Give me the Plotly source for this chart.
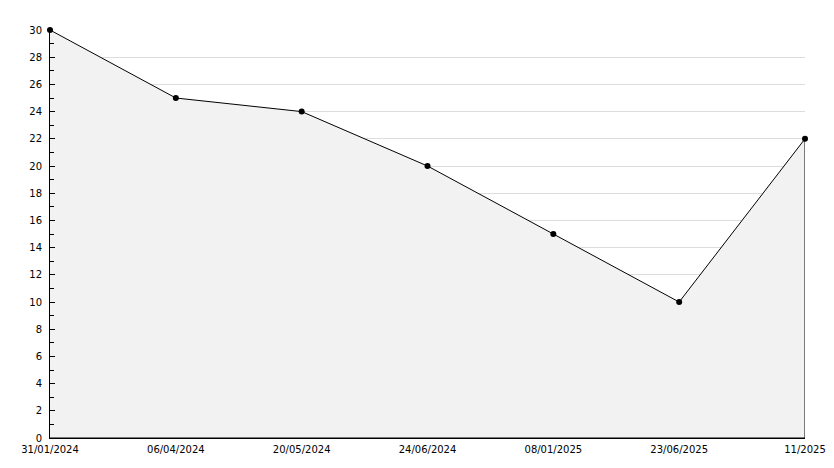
import plotly.graph_objects as go

dates = ["31/01/2024", "06/04/2024", "20/05/2024", "24/06/2024", "08/01/2025", "23/06/2025", "11/2025"]
values = [30, 25, 24, 20, 15, 10, 22]
y_ticks = list(range(0, 31, 2))

xs = list(range(len(dates)))

fig = go.Figure()
# filled area polygon with black outline
fig.add_trace(go.Scatter(
    x=xs + [xs[-1], xs[0]],
    y=values + [0, 0],
    mode="lines",
    fill="toself",
    fillcolor="#f2f2f2",
    line=dict(color="black", width=1),
    hoverinfo="skip",
    showlegend=False,
))
fig.add_trace(go.Scatter(
    x=xs, y=values, mode="markers",
    marker=dict(symbol="circle", size=6, color="black"),
    cliponaxis=False,
    showlegend=False,
))

fig.update_layout(
    width=834, height=468,
    margin=dict(l=42, r=37, t=22, b=38, autoexpand=False),
    paper_bgcolor="white", plot_bgcolor="white",
    font=dict(family="DejaVu Sans", size=10, color="black"),
    xaxis=dict(
        range=[0, 6], tickvals=xs, ticktext=dates,
        showgrid=False, zeroline=False,
        showline=True, linecolor="black", linewidth=1,
        ticks="", ticklen=0, ticklabelstandoff=2,
    ),
    yaxis=dict(
        range=[0, 30], tickvals=y_ticks,
        showgrid=True, gridcolor="#dddddd", gridwidth=1,
        zeroline=False,
        showline=True, linecolor="black", linewidth=1,
        ticks="inside", ticklen=5, tickcolor="black",
        ticklabelstandoff=5,
        minor=dict(dtick=1, ticks="inside", ticklen=4, tickcolor="black", showgrid=False),
    ),
)

fig.write_html("out.html")
